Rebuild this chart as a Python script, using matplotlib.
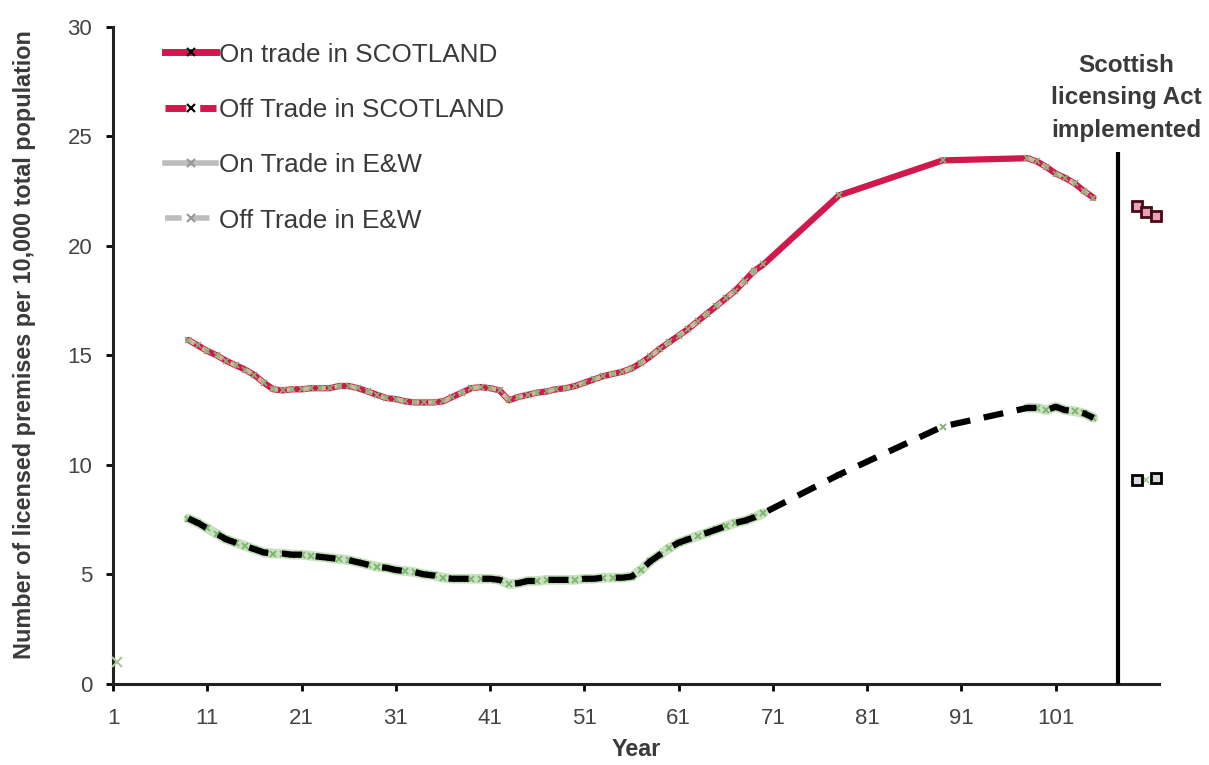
import numpy as np
import matplotlib.pyplot as plt
from matplotlib.lines import Line2D

plt.rcParams['font.family'] = ['Liberation Sans', 'DejaVu Sans']

# years (category positions) and values
years = list(range(9, 71)) + [78, 89] + list(range(98, 106))

on_scotland = [15.7, 15.45, 15.2, 15.0, 14.75, 14.55, 14.35, 14.1, 13.75, 13.45,
               13.4, 13.45, 13.45, 13.5, 13.5, 13.5, 13.6, 13.6, 13.5, 13.35,
               13.2, 13.05, 13.0, 12.9, 12.85, 12.85, 12.85, 12.9, 13.1, 13.3,
               13.5, 13.55, 13.5, 13.4, 12.95, 13.1, 13.2, 13.3, 13.35, 13.45,
               13.5, 13.6, 13.75, 13.9, 14.05, 14.15, 14.25, 14.4, 14.65, 14.95,
               15.3, 15.6, 15.9, 16.2, 16.55, 16.9, 17.25, 17.6, 17.95, 18.4,
               18.85, 19.15,
               22.3, 23.9,
               24.0, 23.85, 23.6, 23.3, 23.1, 22.85, 22.5, 22.2]

off_scotland = [7.55, 7.35, 7.1, 6.85, 6.6, 6.45, 6.3, 6.15, 6.0, 5.95,
                5.95, 5.9, 5.9, 5.85, 5.8, 5.75, 5.7, 5.65, 5.55, 5.45,
                5.35, 5.3, 5.2, 5.15, 5.1, 5.0, 4.95, 4.85, 4.8, 4.8,
                4.8, 4.8, 4.8, 4.75, 4.55, 4.6, 4.7, 4.7, 4.75, 4.75,
                4.75, 4.75, 4.8, 4.8, 4.85, 4.85, 4.85, 4.9, 5.2, 5.6,
                5.9, 6.2, 6.45, 6.6, 6.75, 6.9, 7.05, 7.2, 7.35, 7.45,
                7.6, 7.8,
                9.55, 11.75,
                12.6, 12.6, 12.5, 12.65, 12.5, 12.45, 12.35, 12.15]

# after the act
act_year = 107.6
post_years = [109.6, 110.6, 111.6]
post_on = [21.8, 21.55, 21.35]
post_off_years = [109.6, 111.6]
post_off = [9.3, 9.4]

# lone point at the very start
first_year = [1.4]
first_val = [1.0]

xticks = list(range(1, 102, 10))
yticks = list(range(0, 31, 5))

RED = '#d0184c'
TAN = '#cdbb9c'
GREEN = '#9cc98c'
TXT = '#3a3a3a'

fig = plt.figure(figsize=(12.09, 7.65), dpi=100)
ax = fig.add_axes([0.0935, 0.106, 0.8655, 0.859])

yrs = np.array(years)
on = np.array(on_scotland)
off = np.array(off_scotland)

# split into runs of consecutive years (annual data) for the E&W overlay
breaks = np.where(np.diff(yrs) > 1)[0] + 1
runs = np.split(np.arange(len(yrs)), breaks)

# off trade: green halo + markers under black dashes
for r in runs:
    if len(r) > 1:
        ax.plot(yrs[r], off[r], color=GREEN, lw=7, alpha=0.55, zorder=2,
                solid_capstyle='round')
ax.plot(yrs, off, ls='none', marker='x', ms=5, mew=1.3, color='#7db36f', zorder=2.5)
ax.plot(yrs, off, color='black', lw=4.5, ls=(0, (3.2, 2.2)), zorder=3)

# on trade: red line with tan dash overlay
ax.plot(yrs, on, color=RED, lw=4.5, zorder=3, solid_capstyle='round')
for r in runs:
    if len(r) > 1:
        ax.plot(yrs[r], on[r], color=TAN, lw=3.2, ls=(0, (1.6, 2)), zorder=4)
ax.plot(yrs, on, ls='none', marker='x', ms=4, mew=1.2, color='#8fb27a', zorder=5)

ax.plot(first_year, first_val, ls='none', marker='x', ms=7, mew=1.5,
        color='#a9c8a0', clip_on=False, zorder=5)

# post-act observations
ax.plot(post_years, post_on, ls='none', marker='s', ms=7, mew=2,
        mfc='#e7a3b8', mec='#4a0818', zorder=6, clip_on=False)
ax.plot(post_off_years, post_off, ls='none', marker='s', ms=7, mew=2,
        mfc='#d9d9d9', mec='black', zorder=6, clip_on=False)
ax.plot([110.6], [9.3], ls='none', marker='x', ms=4, mew=1.2, color=GREEN, zorder=5)

# implementation line and note
ax.plot([act_year, act_year], [0, 24.3], color='black', lw=3, zorder=6,
        clip_on=False, solid_capstyle='butt')
ax.text(act_year + 0.9, 26.75, 'Scottish\nlicensing Act\nimplemented',
        ha='center', va='center', fontsize=17.5, fontweight='bold', color=TXT,
        linespacing=1.55)

ax.set_xlim(1, 112)
ax.set_ylim(0, 30)
ax.set_xticks(xticks)
ax.set_yticks(yticks)
ax.tick_params(axis='both', labelsize=16, labelcolor='#444444', width=2, length=5,
               direction='out')
ax.tick_params(axis='x', pad=12)
ax.tick_params(axis='y', pad=10)
for s in ['top', 'right']:
    ax.spines[s].set_visible(False)
for s in ['left', 'bottom']:
    ax.spines[s].set_linewidth(2.2)
    ax.spines[s].set_color('#222222')

ax.set_ylabel('Number of licensed premises per 10,000 total population',
              fontsize=16.8, fontweight='bold', color=TXT)
ax.yaxis.set_label_coords(-0.0735, 0.517)
ax.set_xlabel('Year', fontsize=16.8, fontweight='bold', color=TXT, labelpad=7)

# legend with handles drawn as in the original
handles = [
    Line2D([], [], color=RED, lw=5, marker='x', mec='black', ms=6, mew=1.5),
    Line2D([], [], color=RED, lw=5, ls=(0, (3, 2)), marker='x', mec='black', ms=6, mew=1.5),
    Line2D([], [], color='#bdbdbd', lw=4, marker='x', mec='#999999', ms=6, mew=1.5),
    Line2D([], [], color='#bdbdbd', lw=4, ls=(0, (3, 2)), marker='x', mec='#999999', ms=6, mew=1.5),
]
labels = ['On trade in SCOTLAND', 'Off Trade in SCOTLAND',
          'On Trade in E&W', 'Off Trade in E&W']
leg = ax.legend(handles, labels, loc='upper left', bbox_to_anchor=(0.05, 0.976),
                frameon=False, fontsize=18.8, handlelength=1.95, handletextpad=0.1,
                labelspacing=1.2, borderaxespad=0, borderpad=0)
for t in leg.get_texts():
    t.set_color(TXT)

fig.savefig('out.png', dpi=100)
